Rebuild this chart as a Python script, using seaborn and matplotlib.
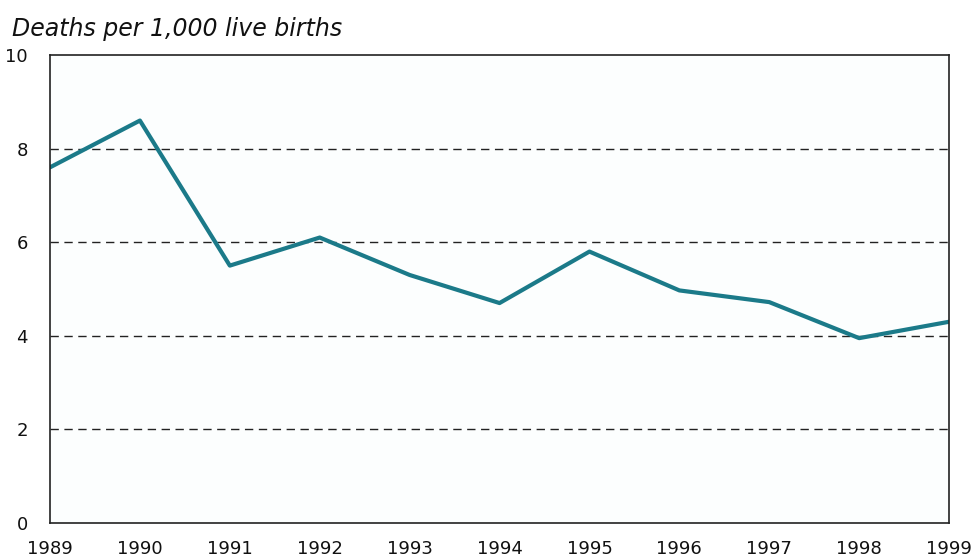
import numpy as np
import pandas as pd
import matplotlib
matplotlib.use('Agg')
import matplotlib.pyplot as plt
import seaborn as sns

# Datos
years = [1989, 1990, 1991, 1992, 1993, 1994, 1995, 1996, 1997, 1998, 1999]
deaths = [7.6, 8.6, 5.5, 6.1, 5.3, 4.7, 5.8, 4.97, 4.72, 3.95, 4.3]
y_ticks = [0, 2, 4, 6, 8, 10]
title = 'Deaths per 1,000 live births'

df = pd.DataFrame({'year': years, 'deaths': deaths})

sns.set_theme(style='white')
plt.rcParams['font.family'] = ['DejaVu Sans']

fig = plt.figure(figsize=(9.73, 5.56), dpi=100)
ax = fig.add_axes([0.0514, 0.0594, 0.924, 0.8416])
ax.set_facecolor('#fcfefe')

sns.lineplot(data=df, x='year', y='deaths', ax=ax, color='#1b7a89', linewidth=3)

ax.set_xlim(1989, 1999)
ax.set_ylim(0, 10)
ax.set_xticks(years)
ax.set_yticks(y_ticks)
ax.tick_params(axis='both', length=0, labelsize=13, colors='#111111')
ax.tick_params(axis='x', pad=12)
ax.tick_params(axis='y', pad=16)
for yv in y_ticks[1:-1]:
    ax.axhline(yv, color='#222222', linestyle=(0, (6, 4)), linewidth=1, zorder=0)
for s in ax.spines.values():
    s.set_color('#222222')
    s.set_linewidth(1.2)
ax.set_xlabel('')
ax.set_ylabel('')

fig.text(0.0125, 0.948, title, fontsize=17, style='italic', color='#111111', va='center')

fig.savefig('out.png', dpi=100)
